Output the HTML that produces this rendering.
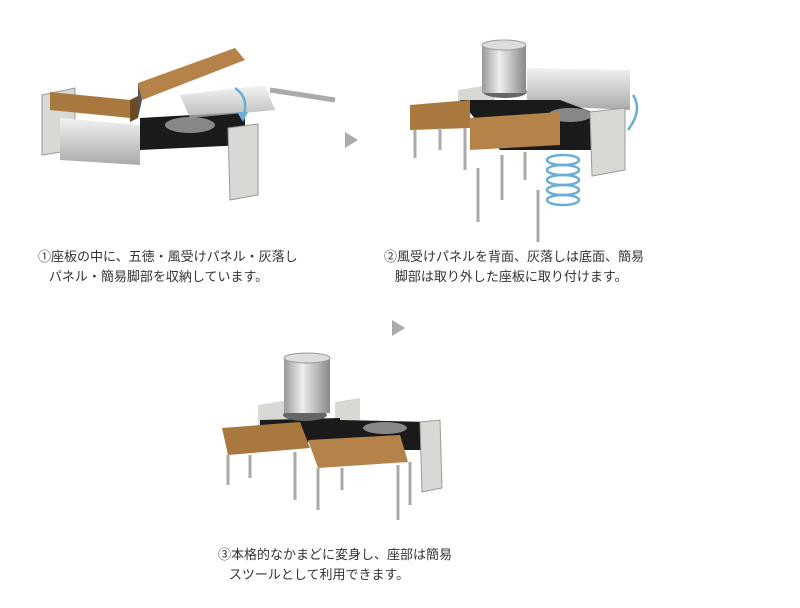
<!DOCTYPE html>
<html><head><meta charset="utf-8"><style>
html,body{margin:0;padding:0;background:#fff;}
body{width:800px;height:608px;position:relative;overflow:hidden;font-family:"Liberation Sans","Noto Sans CJK JP",sans-serif;}
.t{position:absolute;font-size:13px;color:#333;line-height:20px;white-space:nowrap;}
svg{position:absolute;left:0;top:0;}
</style></head><body>
<svg width="800" height="608" viewBox="0 0 800 608">
<defs>
<linearGradient id="pot" x1="0" x2="1"><stop offset="0" stop-color="#999"/><stop offset=".4" stop-color="#eee"/><stop offset="1" stop-color="#888"/></linearGradient>
<linearGradient id="pan" x1="0" y1="0" x2="0" y2="1"><stop offset="0" stop-color="#f2f2f2"/><stop offset="1" stop-color="#aaa"/></linearGradient>
</defs>
<!-- Scene 1 -->
<polygon points="42,95 75,88 75,150 42,155" fill="#d8d8d4" stroke="#999"/>
<polygon points="60,118 140,125 140,165 60,160" fill="url(#pan)"/>
<polygon points="50,92 130,100 130,118 50,110" fill="#a9783f"/>
<polygon points="130,100 138,96 138,118 130,122" fill="#6d4a22"/>
<polygon points="140,118 245,112 245,145 140,150" fill="#1a1a1a"/>
<ellipse cx="190" cy="125" rx="25" ry="8" fill="#888"/>
<polygon points="180,95 265,85 275,110 190,118" fill="url(#pan)" opacity=".8"/>
<polygon points="138,83 235,48 245,60 142,100" fill="#b5834a"/>
<polygon points="138,83 142,100 138,118" fill="#555"/>
<polygon points="228,128 258,124 258,195 230,200" fill="#d8d8d4" stroke="#999"/>
<line x1="270" y1="90" x2="335" y2="100" stroke="#aaa" stroke-width="5"/>
<path d="M235,88 q15,10 8,30" fill="none" stroke="#6aaed6" stroke-width="2.5"/>
<polygon points="237,112 243,122 248,112" fill="#6aaed6"/>
<polygon points="345,132 345,148 358,140" fill="#aaa"/>
<!-- Scene 2 -->
<polygon points="527,68 630,70 630,110 527,105" fill="url(#pan)"/>
<polygon points="458,90 495,84 495,100 458,108" fill="#d8d8d4"/>
<polygon points="460,100 560,100 600,115 600,150 500,150" fill="#1a1a1a"/>
<ellipse cx="505" cy="92" rx="22" ry="6" fill="#666"/>
<rect x="482" y="45" width="44" height="48" fill="url(#pot)"/>
<ellipse cx="504" cy="45" rx="22" ry="5" fill="#ddd" stroke="#999"/>
<ellipse cx="570" cy="115" rx="22" ry="7" fill="#888"/>
<polygon points="590,112 625,108 625,170 592,176" fill="#d8d8d4" stroke="#999"/>
<polygon points="410,105 470,100 470,128 410,130" fill="#a9783f"/>
<polygon points="470,118 560,112 560,145 470,150" fill="#b5834a"/>
<g stroke="#aaa" stroke-width="3">
<line x1="415" y1="130" x2="415" y2="158"/><line x1="440" y1="128" x2="440" y2="150"/><line x1="465" y1="128" x2="465" y2="170"/>
<line x1="478" y1="168" x2="478" y2="222"/><line x1="502" y1="155" x2="502" y2="200"/><line x1="525" y1="152" x2="525" y2="180"/><line x1="538" y1="190" x2="538" y2="242"/>
</g>
<g fill="none" stroke="#6aaed6" stroke-width="2.5">
<ellipse cx="563" cy="160" rx="16" ry="5"/><ellipse cx="563" cy="170" rx="16" ry="5"/><ellipse cx="563" cy="180" rx="16" ry="5"/><ellipse cx="563" cy="190" rx="16" ry="5"/><ellipse cx="563" cy="200" rx="16" ry="5"/>
<path d="M633,95 q10,15 -5,35"/>
</g>
<polygon points="392,320 392,336 405,328" fill="#aaa"/>
<!-- Scene 3 -->
<polygon points="258,405 290,400 290,430 258,432" fill="#d8d8d4"/>
<polygon points="335,402 360,398 360,425 335,428" fill="#d8d8d4"/>
<polygon points="260,420 340,418 340,440 260,445" fill="#1a1a1a"/>
<polygon points="340,420 430,422 430,450 340,450" fill="#1a1a1a"/>
<ellipse cx="305" cy="415" rx="22" ry="6" fill="#666"/>
<ellipse cx="385" cy="428" rx="22" ry="6" fill="#888"/>
<rect x="284" y="358" width="46" height="55" fill="url(#pot)"/>
<ellipse cx="307" cy="358" rx="23" ry="5" fill="#ddd" stroke="#999"/>
<polygon points="420,422 440,420 442,488 422,492" fill="#d8d8d4" stroke="#999"/>
<polygon points="222,428 300,422 310,448 228,455" fill="#a9783f"/>
<polygon points="308,440 400,435 408,462 318,468" fill="#b5834a"/>
<g stroke="#aaa" stroke-width="3">
<line x1="228" y1="455" x2="228" y2="485"/><line x1="250" y1="455" x2="250" y2="478"/><line x1="295" y1="452" x2="295" y2="500"/>
<line x1="318" y1="468" x2="318" y2="510"/><line x1="342" y1="468" x2="342" y2="490"/><line x1="398" y1="465" x2="398" y2="520"/><line x1="410" y1="462" x2="410" y2="505"/>
</g>
</svg>
<div class="t" style="left:38px;top:247px">①座板の中に、五徳・風受けパネル・灰落し<br>&nbsp;&nbsp;&nbsp;パネル・簡易脚部を収納しています。</div>
<div class="t" style="left:384px;top:247px">②風受けパネルを背面、灰落しは底面、簡易<br>&nbsp;&nbsp;&nbsp;脚部は取り外した座板に取り付けます。</div>
<div class="t" style="left:218px;top:545px">③本格的なかまどに変身し、座部は簡易<br>&nbsp;&nbsp;&nbsp;スツールとして利用できます。</div>
</body></html>
